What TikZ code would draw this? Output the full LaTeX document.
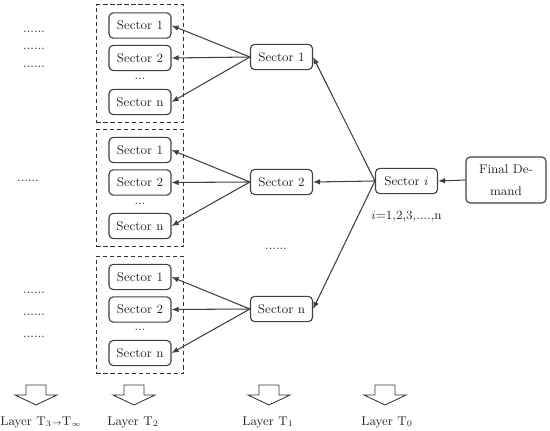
\documentclass[tikz,border=0pt]{standalone}
\usepackage{tikz}
\usetikzlibrary{arrows.meta,positioning,fit,calc}

\begin{document}
\begin{tikzpicture}[
    x=0.025cm, y=-0.025cm,
    every node/.style={font=\fontsize{9}{10}\selectfont, text=black!85},
    sect/.style={rectangle, draw=black!75, line width=0.8pt, rounded corners=3pt, minimum width=1.55cm, minimum height=0.63cm, inner sep=0pt},
    group/.style={rectangle, draw=black!80, line width=0.8pt, dash pattern=on 3pt off 2pt, inner xsep=0.3cm, inner ysep=0.19cm},
    arrow/.style={-{Latex[length=5pt,width=4pt]}, line width=0.75pt, draw=black!75},
    dots/.style={inner sep=0pt},
    layer/.style={inner sep=0pt, anchor=base},
    layerarrow/.pic={\draw[line width=0.6pt, draw=black!80] (-10,0) -- (10,0) -- (10,10) -- (21,10) -- (0,20) -- (-21,10) -- (-10,10) -- cycle;}
]
    \useasboundingbox (0,0) rectangle (550,431);

    % layer T2
    \node [sect] (a1) at (140,25.5) {Sector 1};
    \node [sect] (a2) at (140,58) {Sector 2};
    \node [dots] (adots) at (140,79) {...};
    \node [sect] (an) at (140,102) {Sector n};
    \node [group, fit=(a1)(an)] (ga) {};

    \node [sect] (b1) at (140,150) {Sector 1};
    \node [sect] (b2) at (140,182.5) {Sector 2};
    \node [dots] (bdots) at (140,204) {...};
    \node [sect] (bn) at (140,226) {Sector n};
    \node [group, fit=(b1)(bn)] (gb) {};

    \node [sect] (c1) at (140,277) {Sector 1};
    \node [sect] (c2) at (140,309.5) {Sector 2};
    \node [dots] (cdots) at (140,330) {...};
    \node [sect] (cn) at (140,353) {Sector n};
    \node [group, fit=(c1)(cn)] (gc) {};

    % layer T3 -> T_inf
    \node [dots] (la1) at (34,32) {......};
    \node [dots] (la2) at (34,49) {......};
    \node [dots] (la3) at (34,67) {......};
    \node [dots] (lb1) at (28,181) {......};
    \node [dots] (lc1) at (34,293) {......};
    \node [dots] (lc2) at (34,315) {......};
    \node [dots] (lc3) at (34,337) {......};

    % layer T1
    \node [sect] (m1) at (281.5,57) {Sector 1};
    \node [sect] (m2) at (281.5,182) {Sector 2};
    \node [dots] (mdots) at (276,249) {......};
    \node [sect] (mn) at (281.5,309) {Sector n};

    % layer T0
    \node [sect] (si) at (406.5,181) {Sector $i$};
    \node [below=0.42cm of si, inner sep=0pt] (irange) {$i$=1,2,3,....,n};
    \node [sect, minimum width=2cm, minimum height=1.15cm, align=center, font=\fontsize{9}{16}\selectfont] (fd) at (506,180) {Final De-\\mand};

    \draw [arrow] (m1.west) -- (a1.east);
    \draw [arrow] (m1.west) -- (a2.east);
    \draw [arrow] (m1.west) -- (an.east);
    \draw [arrow] (m2.west) -- (b1.east);
    \draw [arrow] (m2.west) -- (b2.east);
    \draw [arrow] (m2.west) -- (bn.east);
    \draw [arrow] (mn.west) -- (c1.east);
    \draw [arrow] (mn.west) -- (c2.east);
    \draw [arrow] (mn.west) -- (cn.east);

    \draw [arrow] (si.west) -- (m1.east);
    \draw [arrow] (si.west) -- (m2.east);
    \draw [arrow] (si.west) -- (mn.east);
    \draw [arrow] (fd.west) -- (si.east);

    % layers
    \pic at (36,385) {layerarrow};
    \pic at (134,385) {layerarrow};
    \pic at (269,385) {layerarrow};
    \pic at (385,385) {layerarrow};
    \node [layer] (t3) at (41,425) {Layer T$_3$$\scriptstyle\rightarrow$T$_{\scriptscriptstyle\infty}$};
    \node [layer] (t2) at (133,425) {Layer T$_2$};
    \node [layer] (t1) at (268,425) {Layer T$_1$};
    \node [layer] (t0) at (387,425) {Layer T$_0$};
\end{tikzpicture}
\end{document}
